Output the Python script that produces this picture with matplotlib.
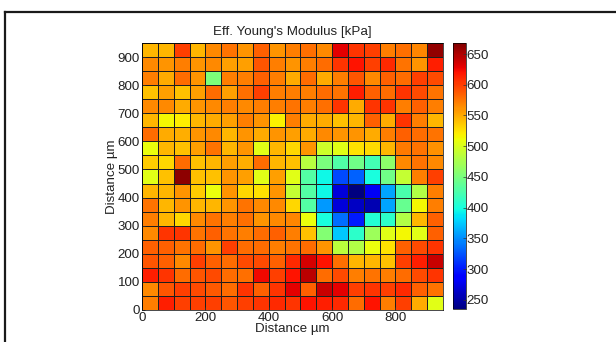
import numpy as np
from matplotlib import pyplot as plt
from matplotlib.lines import Line2D

plt.rcParams['font.family'] = ['Liberation Sans', 'DejaVu Sans']

# grid positions (um)
x_edges = np.arange(0, 951, 50)
y_edges = np.arange(0, 951, 50)

# effective Young's modulus [kPa], rows from top (900-950) to bottom (0-50)
modulus_rows = [
    [545, 545, 600, 545, 565, 575, 560, 585, 560, 570, 578, 565, 630, 605, 600, 570, 578, 568, 660],
    [565, 560, 570, 560, 565, 555, 555, 590, 570, 560, 570, 580, 605, 620, 600, 610, 575, 560, 615],
    [570, 550, 580, 560, 452, 570, 570, 585, 570, 550, 580, 550, 570, 590, 565, 585, 580, 600, 595],
    [540, 555, 540, 555, 580, 555, 578, 600, 570, 570, 570, 580, 575, 615, 585, 580, 605, 595, 575],
    [565, 565, 550, 560, 565, 570, 565, 570, 570, 575, 570, 578, 605, 550, 605, 605, 570, 585, 570],
    [545, 515, 520, 545, 550, 555, 570, 560, 518, 570, 550, 550, 540, 545, 585, 550, 605, 570, 545],
    [580, 550, 548, 560, 565, 545, 560, 550, 560, 555, 550, 565, 560, 560, 550, 570, 585, 580, 575],
    [510, 545, 540, 555, 575, 545, 560, 505, 545, 530, 560, 495, 505, 525, 528, 545, 572, 575, 562],
    [535, 530, 580, 540, 545, 555, 548, 580, 545, 540, 482, 450, 428, 445, 422, 460, 565, 575, 565],
    [505, 540, 662, 540, 540, 560, 555, 505, 555, 505, 430, 395, 320, 330, 400, 445, 490, 570, 600],
    [545, 545, 560, 535, 510, 560, 530, 525, 560, 490, 430, 395, 270, 236, 280, 360, 425, 480, 570],
    [575, 545, 560, 545, 545, 560, 575, 565, 565, 530, 430, 355, 270, 262, 255, 360, 440, 515, 570],
    [570, 545, 530, 565, 575, 570, 578, 560, 565, 568, 510, 400, 335, 300, 405, 410, 480, 545, 585],
    [565, 605, 605, 575, 585, 575, 570, 580, 585, 570, 540, 455, 375, 410, 470, 505, 515, 505, 585],
    [585, 585, 575, 580, 560, 600, 580, 580, 570, 575, 580, 560, 485, 480, 510, 525, 585, 595, 605],
    [590, 585, 565, 600, 585, 580, 595, 595, 585, 610, 635, 620, 578, 545, 545, 540, 600, 615, 640],
    [615, 605, 580, 590, 595, 580, 578, 625, 600, 620, 645, 580, 595, 570, 575, 570, 580, 595, 605],
    [565, 590, 600, 595, 588, 580, 605, 585, 605, 630, 585, 640, 630, 600, 605, 600, 610, 585, 575],
    [570, 615, 600, 600, 600, 590, 600, 605, 610, 605, 620, 615, 610, 580, 620, 570, 600, 550, 505],
]

x_ticks = [0, 200, 400, 600, 800]
y_ticks = [0, 100, 200, 300, 400, 500, 600, 700, 800, 900]
cbar_ticks = [250, 300, 350, 400, 450, 500, 550, 600, 650]

fig = plt.figure(figsize=(6.16, 3.42), dpi=100)

# frame of the captured window
fig.add_artist(Line2D([5 / 616, 5 / 616], [0, 1 - 12 / 342], color='#1a1a1a', lw=1.6,
                      transform=fig.transFigure))
fig.add_artist(Line2D([5 / 616, 1], [1 - 12 / 342, 1 - 12 / 342], color='#1a1a1a', lw=1.6,
                      transform=fig.transFigure))

fs = 9.6
ax = fig.add_axes([142 / 616, 1 - 310 / 342, 301 / 616, 267 / 342])
data = np.array(modulus_rows)[::-1]
mesh = ax.pcolormesh(x_edges, y_edges, data, cmap='jet', vmin=235, vmax=668,
                     edgecolors='#1e1e1e', linewidth=0.55)
ax.set_xlim(0, 950)
ax.set_ylim(0, 950)
ax.set_xticks(x_ticks)
ax.set_yticks(y_ticks)
ax.tick_params(direction='in', length=2, labelsize=fs, pad=1.5, width=0.5,
               colors='#333333', labelcolor='#222222')
ax.set_title("Eff. Young's Modulus [kPa]", fontsize=fs, pad=6, color='#222222')
ax.set_xlabel('Distance µm', fontsize=fs, labelpad=-1, color='#222222')
ax.set_ylabel('Distance µm', fontsize=fs, labelpad=0, color='#222222')
for s in ax.spines.values():
    s.set_linewidth(0.5)

cax = fig.add_axes([453 / 616, 1 - 309 / 342, 13 / 616, 266 / 342])
cb = fig.colorbar(mesh, cax=cax, ticks=cbar_ticks)
cb.ax.tick_params(direction='in', length=2, labelsize=fs, pad=0.5, width=0.5,
                  colors='#333333', labelcolor='#222222')
cb.outline.set_linewidth(0.5)

fig.savefig('out.png', dpi=100)
